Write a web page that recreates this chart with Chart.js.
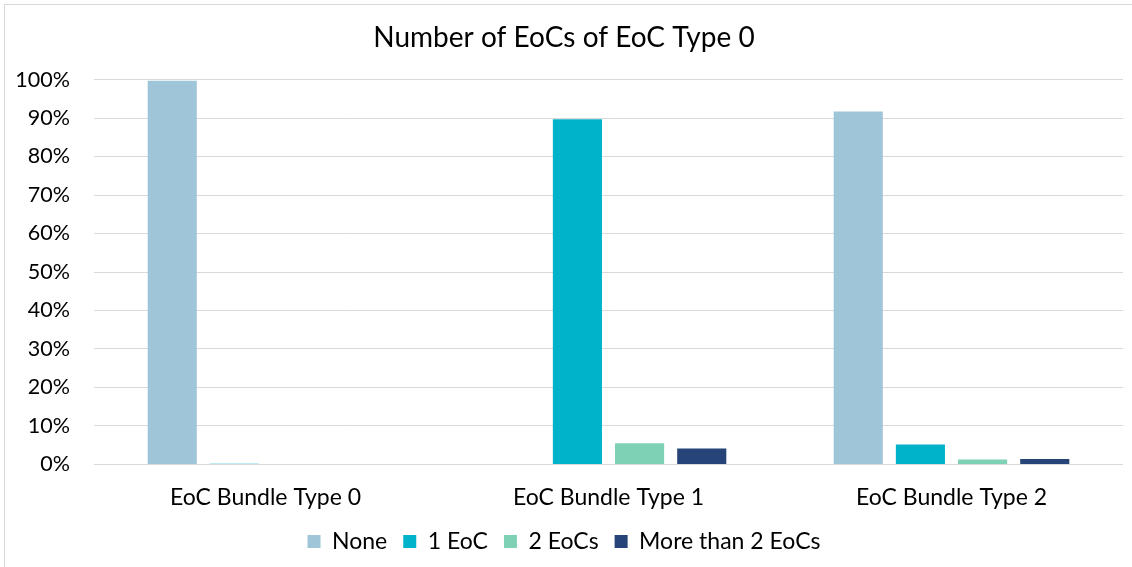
<!DOCTYPE html>
<html>
<head>
<meta charset="utf-8">
<script src="https://cdn.jsdelivr.net/npm/chart.js@4/dist/chart.umd.min.js"></script>
<style>
  html, body { margin: 0; padding: 0; background: #ffffff; }
  #wrap { position: relative; box-sizing: border-box;
          border-left: 1px solid #d9d9d9; border-top: 1px solid #d9d9d9;
          margin-left: 4px; margin-top: 4px; width: 1128px; height: 563px; }
</style>
</head>
<body>
<div id="wrap"><canvas id="c"></canvas></div>
<script>
// Bundle types along the x axis
const categories = ['EoC Bundle Type 0', 'EoC Bundle Type 1', 'EoC Bundle Type 2'];

// Share of cases (%) per number of EoCs of type 0
const noneValues = [99.7, 0, 91.7];
const oneEocValues = [0.2, 89.7, 5.2];
const twoEocsValues = [0, 5.5, 1.3];
const moreThanTwoValues = [0, 4.1, 1.4];

const seriesNames = ['None', '1 EoC', '2 EoCs', 'More than 2 EoCs'];
const yTicks = [0, 10, 20, 30, 40, 50, 60, 70, 80, 90, 100];

const FONT = 'Lato, "Open Sans", sans-serif';
const colors = ['#9fc5d8', '#00b3ca', '#7fd1b6', '#264478'];
const seriesValues = [noneValues, oneEocValues, twoEocsValues, moreThanTwoValues];

const datasets = seriesNames.map((name, i) => ({
  label: name,
  data: seriesValues[i],
  backgroundColor: colors[i],
  borderWidth: 0,
  categoryPercentage: 0.725,
  barPercentage: 0.79
}));

new Chart(document.getElementById('c'), {
  type: 'bar',
  data: { labels: categories, datasets },
  options: {
    responsive: true,
    maintainAspectRatio: false,
    animation: false,
    layout: { padding: { left: 0, right: 9, top: 0, bottom: 4 } },
    plugins: {
      title: {
        display: true,
        text: 'Number of EoCs of EoC Type 0',
        color: '#000000',
        font: { family: FONT, size: 28, weight: 'normal' },
        padding: { top: 16, bottom: 25 }
      },
      legend: {
        position: 'bottom',
        labels: {
          color: '#000000',
          font: { family: FONT, size: 23 },
          boxWidth: 13,
          boxHeight: 13,
          padding: 16
        }
      },
      tooltip: { enabled: false }
    },
    scales: {
      x: {
        grid: { display: false, drawTicks: false },
        border: { display: false },
        afterFit: (scale) => { scale.height -= 16; },
        ticks: { color: '#000000', font: { family: FONT, size: 23 }, padding: 19, maxRotation: 0 }
      },
      y: {
        min: 0,
        max: 100,
        afterBuildTicks: (scale) => { scale.ticks = yTicks.map(v => ({ value: v })); },
        afterFit: (scale) => { scale.width = 89; },
        grid: { color: '#d9d9d9', lineWidth: 1, drawTicks: false },
        border: { display: false },
        ticks: {
          color: '#000000',
          font: { family: FONT, size: 21.5 },
          padding: 24,
          callback: (v) => v + '%'
        }
      }
    }
  }
});
</script>
</body>
</html>
